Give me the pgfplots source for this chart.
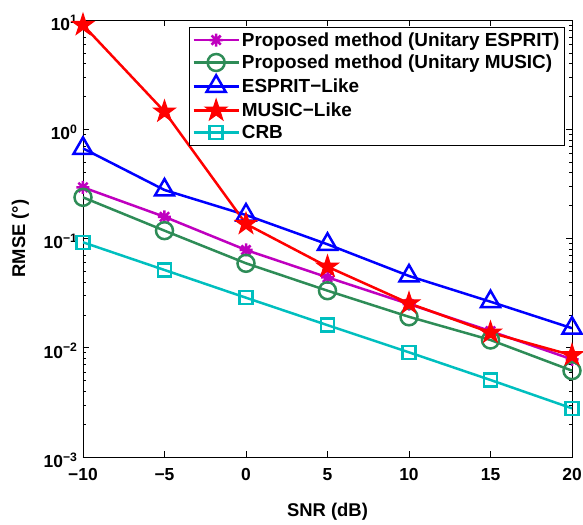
\documentclass[border=0pt]{standalone}
\usepackage{fontspec}
\setmainfont{Liberation Sans}
\usepackage{pgfplots}
\pgfplotsset{compat=1.18}

\definecolor{mmag}{rgb}{0.75,0,0.75}
\definecolor{mgreen}{rgb}{0.18,0.55,0.34}
\definecolor{mcyan}{rgb}{0,0.75,0.75}

% MATLAB-style 8-spoke asterisk
\pgfdeclareplotmark{mast}{%
  \pgfpathmoveto{\pgfqpoint{-\pgfplotmarksize}{0pt}}%
  \pgfpathlineto{\pgfqpoint{\pgfplotmarksize}{0pt}}%
  \pgfpathmoveto{\pgfqpoint{0pt}{-\pgfplotmarksize}}%
  \pgfpathlineto{\pgfqpoint{0pt}{\pgfplotmarksize}}%
  \pgfpathmoveto{\pgfqpoint{-0.707\pgfplotmarksize}{-0.707\pgfplotmarksize}}%
  \pgfpathlineto{\pgfqpoint{0.707\pgfplotmarksize}{0.707\pgfplotmarksize}}%
  \pgfpathmoveto{\pgfqpoint{-0.707\pgfplotmarksize}{0.707\pgfplotmarksize}}%
  \pgfpathlineto{\pgfqpoint{0.707\pgfplotmarksize}{-0.707\pgfplotmarksize}}%
  \pgfusepathqstroke}

% filled pentagram (MATLAB 'p')
\pgfdeclareplotmark{pstar}{%
  \pgfpathmoveto{\pgfqpointpolar{90}{\pgfplotmarksize}}%
  \pgfpathlineto{\pgfqpointpolar{126}{0.382\pgfplotmarksize}}%
  \pgfpathlineto{\pgfqpointpolar{162}{\pgfplotmarksize}}%
  \pgfpathlineto{\pgfqpointpolar{198}{0.382\pgfplotmarksize}}%
  \pgfpathlineto{\pgfqpointpolar{234}{\pgfplotmarksize}}%
  \pgfpathlineto{\pgfqpointpolar{270}{0.382\pgfplotmarksize}}%
  \pgfpathlineto{\pgfqpointpolar{306}{\pgfplotmarksize}}%
  \pgfpathlineto{\pgfqpointpolar{342}{0.382\pgfplotmarksize}}%
  \pgfpathlineto{\pgfqpointpolar{18}{\pgfplotmarksize}}%
  \pgfpathlineto{\pgfqpointpolar{54}{0.382\pgfplotmarksize}}%
  \pgfpathclose
  \pgfusepathqfillstroke}

\begin{document}
\begin{tikzpicture}
  \begin{axis}[
    scale only axis,
    width=489bp, height=437bp,
    ymode=log,
    xmin=-10, xmax=20,
    ymin=1e-3, ymax=10,
    xtick={-10,-5,0,5,10,15,20},
    xticklabels={−10,−5,0,5,10,15,20},
    ytick={1e-3,1e-2,1e-1,1,10},
    yticklabel={\pgfmathtruncatemacro\e{round(\tick/ln(10))}10\textsuperscript{\ifnum\e<0 −\the\numexpr-\e\relax\else\e\fi}},
    font=\bfseries\fontsize{18.5}{22}\selectfont,
    tick label style={font=\bfseries\fontsize{17.5}{21}\selectfont},
    xticklabel style={yshift=-8bp},
    yticklabel style={yshift=-3bp, xshift=-2bp},
    xlabel={SNR (dB)},
    ylabel={RMSE (°)},
    xlabel style={yshift=-15bp},
    ylabel style={yshift=8bp},
    axis line style={line width=1pt},
    tick style={black, line width=0.6pt},
    major tick length=6bp,
    minor tick length=3.5bp,
    tick align=inside,
    legend cell align=left,
    legend style={
      at={(1,1)}, anchor=north east,
      xshift=-7bp, yshift=-7bp,
      draw=black, line width=1pt,
      font=\bfseries\fontsize{19}{22}\selectfont,
      row sep=3.2bp,
      inner sep=3bp,
    },
    legend image code/.code={
      \draw[mark repeat=2,mark phase=2,#1]
        plot coordinates {(0bp,0bp) (22.5bp,0bp) (45bp,0bp)};
    },
    every axis plot/.append style={line width=2.5bp},
  ]
    \addplot[color=mmag, mark=mast, mark size=6.5bp] coordinates {
      (-10,0.294) (-5,0.158) (0,0.0785) (5,0.0441) (10,0.0251) (15,0.0142) (20,0.00783)
    };
    \addlegendentry{Proposed method (Unitary ESPRIT)}

    \addplot[color=mgreen, mark=o, mark size=8.5bp] coordinates {
      (-10,0.238) (-5,0.118) (0,0.0593) (5,0.0333) (10,0.0192) (15,0.01178) (20,0.00617)
    };
    \addlegendentry{Proposed method (Unitary MUSIC)}

    \addplot[color=blue, mark=triangle, mark size=11bp] coordinates {
      (-10,0.668) (-5,0.278) (0,0.164) (5,0.0885) (10,0.0454) (15,0.0264) (20,0.0151)
    };
    \addlegendentry{ESPRIT−Like}

    \addplot[color=red, mark=pstar, mark size=11.5bp, mark options={fill=red, line width=1bp}] coordinates {
      (-10,9.0) (-5,1.45) (0,0.136) (5,0.0552) (10,0.0255) (15,0.01375) (20,0.00853)
    };
    \addlegendentry{MUSIC−Like}

    \addplot[color=mcyan, mark=square, mark size=6.5bp] coordinates {
      (-10,0.0923) (-5,0.0515) (0,0.0287) (5,0.0161) (10,0.00908) (15,0.00507) (20,0.00279)
    };
    \addlegendentry{CRB}
  \end{axis}
  % page margins as in the reference figure
  \pgfresetboundingbox
  \path[use as bounding box] (-83bp,-68bp) rectangle (500bp,457bp);
\end{tikzpicture}
\end{document}
